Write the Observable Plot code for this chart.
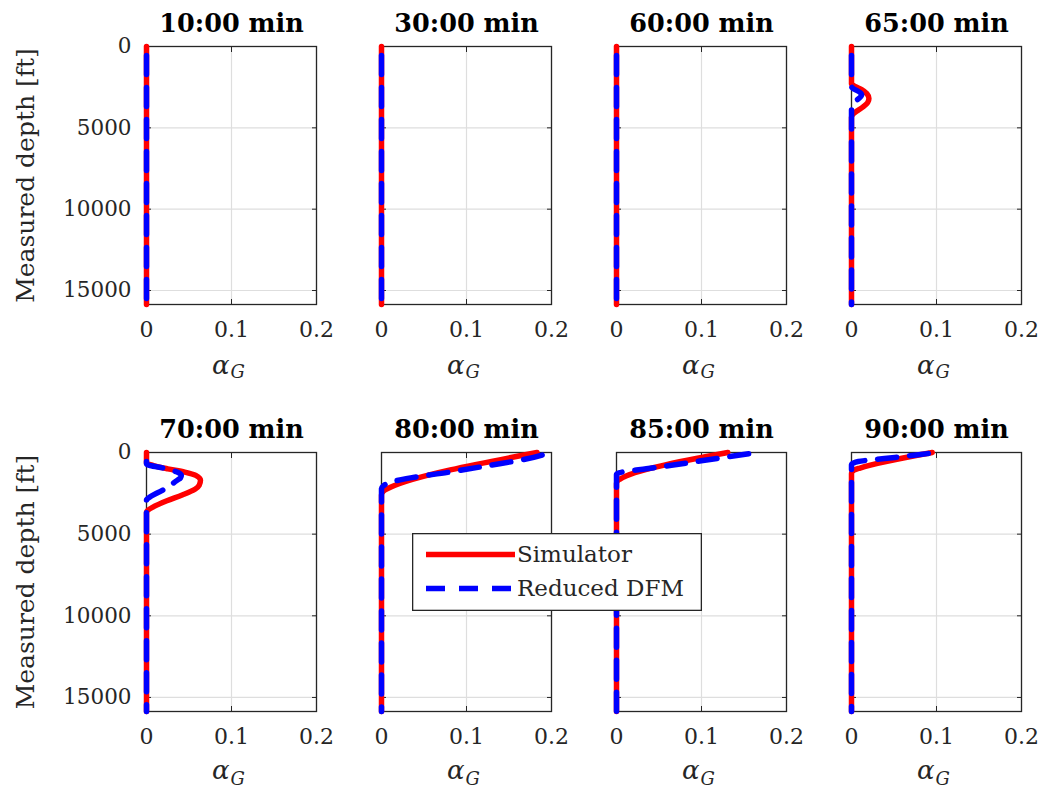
<!DOCTYPE html>
<html>
<head>
<meta charset="utf-8">
<script src="https://cdn.jsdelivr.net/npm/d3@7"></script>
<script src="https://cdn.jsdelivr.net/npm/@observablehq/plot@0.6"></script>
<style>
  body { margin: 0; background: #fff; }
  #wrap { position: relative; width: 1045px; height: 789px; overflow: hidden; background: #fff; }
  #row1 { position: absolute; left: 0; top: 0; }
  #row2 { position: absolute; left: 0; top: 400px; }
  #legend { position: absolute; left: 412px; top: 533px; width: 290px; height: 78px; }
</style>
</head>
<body>
<div id="wrap">
  <div id="row1"></div>
  <div id="row2"></div>
  <div id="legend"></div>
</div>
<script>
// ---- panel labels and ticks ----
const timesTop = ["10:00", "30:00", "60:00", "65:00"];
const timesBottom = ["70:00", "80:00", "85:00", "90:00"];
const xTicks = [0, 0.1, 0.2];
const yTicks = [0, 5000, 10000, 15000];
const depthMax = 15860;
const seriesNames = ["Simulator", "Reduced DFM"];

// ---- profiles: [measured depth (ft), alpha_G] ----
const sim10 = [[0, 0], [15860, 0]];
const dfm10 = [[0, 0], [15860, 0]];
const sim30 = [[0, 0], [15860, 0]];
const dfm30 = [[0, 0], [15860, 0]];
const sim60 = [[0, 0], [15860, 0]];
const dfm60 = [[0, 0], [15860, 0]];
const sim65 = [[0, 0], [2300, 0], [2450, 0.004], [2650, 0.012], [2900, 0.018], [3200, 0.0205], [3450, 0.019], [3700, 0.014], [3950, 0.007], [4150, 0.002], [4350, 0], [15860, 0]];
const dfm65 = [[0, 0], [2450, 0], [2950, 0.012], [3650, 0], [15860, 0]];
const sim70 = [[0, 0], [650, 0], [800, 0.008], [1000, 0.025], [1200, 0.045], [1400, 0.058], [1700, 0.0635], [2000, 0.062], [2250, 0.057], [2600, 0.042], [2950, 0.024], [3300, 0.009], [3650, 0], [15860, 0]];
const dfm70 = [[0, 0], [700, 0], [1000, 0.024], [1200, 0.036], [1400, 0.041], [1550, 0.040], [1707, 0.036], [2275, 0.020], [2800, 0.002], [2900, 0], [15860, 0]];
const sim80 = [[0, 0.183], [2130, 0.0105], [2300, 0.004], [2450, 0.001], [2600, 0], [15860, 0]];
const dfm80 = [[0, 0.199], [400, 0.17], [800, 0.126], [1200, 0.08], [1600, 0.029], [1890, 0.007], [2050, 0.002], [2200, 0], [15860, 0]];
const sim85 = [[0, 0.131], [1630, 0.004], [1750, 0.001], [1900, 0], [15860, 0]];
const dfm85 = [[0, 0.166], [350, 0.12], [700, 0.075], [1000, 0.035], [1150, 0.012], [1250, 0.003], [1350, 0], [15860, 0]];
const sim90 = [[0, 0.095], [950, 0.01], [1080, 0.003], [1200, 0.0005], [1300, 0], [15860, 0]];
const dfm90 = [[0, 0.101], [150, 0.076], [300, 0.051], [450, 0.024], [550, 0.008], [650, 0.002], [750, 0], [15860, 0]];

const simBy = {"10:00": sim10, "30:00": sim30, "60:00": sim60, "65:00": sim65, "70:00": sim70, "80:00": sim80, "85:00": sim85, "90:00": sim90};
const dfmBy = {"10:00": dfm10, "30:00": dfm30, "60:00": dfm60, "65:00": dfm65, "70:00": dfm70, "80:00": dfm80, "85:00": dfm85, "90:00": dfm90};

const RED = "#ff0000", BLUE = "#0000ff", INK = "#262626";
const FONT = '"DejaVu Serif", serif';

function toRows(times, by) {
  return times.flatMap(t => by[t].map(([depth, alpha]) => ({t, depth, alpha})));
}

function row(times, height, marginTop, marginBottom, alphaDy, gDy) {
  const simRows = toRows(times, simBy);
  const dfmRows = toRows(times, dfmBy);
  return Plot.plot({
    width: 1045,
    height,
    marginTop,
    marginBottom,
    marginLeft: 146,
    marginRight: 24,
    style: {fontFamily: FONT, color: INK, background: "transparent", overflow: "visible"},
    fx: {domain: times, paddingInner: 0.277, paddingOuter: 0, axis: null},
    x: {domain: [0, 0.2]},
    y: {domain: [0, depthMax], reverse: true},
    marks: [
      Plot.gridX({ticks: xTicks, stroke: "#dedede", strokeOpacity: 1, strokeWidth: 1.2}),
      Plot.gridY({ticks: yTicks, stroke: "#dedede", strokeOpacity: 1, strokeWidth: 1.2}),
      Plot.frame({stroke: INK, strokeWidth: 1.3}),
      // inward tick marks
      Plot.axisX({anchor: "bottom", ticks: xTicks, tickSize: 5, dy: -5, tickFormat: () => "", label: null, facetAnchor: null, stroke: INK}),
      Plot.axisX({anchor: "top", ticks: xTicks, tickSize: 5, dy: 5, tickFormat: () => "", label: null, facetAnchor: null, stroke: INK}),
      Plot.axisY({anchor: "left", ticks: yTicks, tickSize: 5, dx: 5, tickFormat: () => "", label: null, facetAnchor: null, stroke: INK}),
      Plot.axisY({anchor: "right", ticks: yTicks, tickSize: 5, dx: -5, tickFormat: () => "", label: null, facetAnchor: null, stroke: INK}),
      // tick labels
      Plot.axisX({anchor: "bottom", ticks: xTicks, tickSize: 0, tickPadding: 17, fontSize: 22, tickFormat: d => String(d), label: null, fill: INK}),
      Plot.axisY({anchor: "left", ticks: yTicks, tickSize: 0, tickPadding: 15, fontSize: 21.5, tickFormat: d => String(d), label: null, fill: INK}),
      // data
      Plot.line(simRows, {fx: "t", x: "alpha", y: "depth", stroke: RED, strokeWidth: 5.5, curve: "monotone-y"}),
      Plot.line(dfmRows, {fx: "t", x: "alpha", y: "depth", stroke: BLUE, strokeWidth: 5.5, strokeDasharray: "19,13", strokeDashoffset: 23, curve: "monotone-y"}),
      // titles
      Plot.text(times, {fx: d => d, text: d => d + " min", frameAnchor: "top", dy: -15, lineAnchor: "bottom", fontSize: 25.5, fontWeight: "bold", fill: "#000"}),
      // y label on left panel
      Plot.text([times[0]], {fx: d => d, text: () => "Measured depth [ft]", frameAnchor: "left", textAnchor: "middle", rotate: -90, dx: -121, lineAnchor: "middle", fontSize: 25, fill: INK}),
      // x label alpha_G
      Plot.text(["α"], {text: d => d, frameAnchor: "bottom", dy: alphaDy, dx: -2, textAnchor: "end", lineAnchor: "bottom", fontSize: 26, fontStyle: "italic", fill: INK}),
      Plot.text(["G"], {text: d => d, frameAnchor: "bottom", dy: gDy, dx: -1, textAnchor: "start", lineAnchor: "bottom", fontSize: 18, fontStyle: "italic", fill: INK})
    ]
  });
}

document.getElementById("row1").appendChild(row(timesTop, 400, 46, 96, 69, 73));
document.getElementById("row2").appendChild(row(timesBottom, 389, 52, 78, 67, 73));

// legend
const lg = d3.select("#legend").append("svg")
  .attr("width", 290).attr("height", 78)
  .style("display", "block").style("font-family", FONT);
lg.append("rect").attr("x", 0.65).attr("y", 0.65).attr("width", 288.7).attr("height", 76.7)
  .attr("fill", "#fff").attr("stroke", INK).attr("stroke-width", 1.3);
lg.append("line").attr("x1", 14).attr("x2", 103).attr("y1", 21.5).attr("y2", 21.5)
  .attr("stroke", RED).attr("stroke-width", 5.5);
lg.append("line").attr("x1", 14).attr("x2", 99).attr("y1", 55.5).attr("y2", 55.5)
  .attr("stroke", BLUE).attr("stroke-width", 5.5).attr("stroke-dasharray", "19,14");
lg.append("text").attr("x", 105).attr("y", 29).attr("font-size", 23).attr("fill", INK).text(seriesNames[0]);
lg.append("text").attr("x", 105).attr("y", 63).attr("font-size", 23).attr("fill", INK).text(seriesNames[1]);
</script>
</body>
</html>
